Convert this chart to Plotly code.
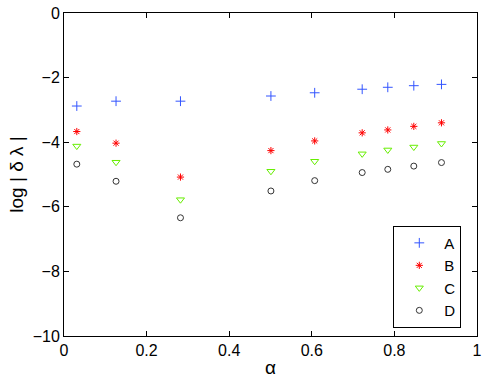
import plotly.graph_objects as go

# 数据
alpha = [0.031, 0.126, 0.282, 0.501, 0.607, 0.722, 0.784, 0.847, 0.914]
a_vals = [-2.88, -2.73, -2.73, -2.57, -2.47, -2.36, -2.30, -2.25, -2.21]
b_vals = [-3.67, -4.03, -5.08, -4.26, -3.96, -3.71, -3.62, -3.51, -3.40]
c_vals = [-4.12, -4.62, -5.78, -4.90, -4.59, -4.36, -4.24, -4.15, -4.04]
d_vals = [-4.68, -5.21, -6.34, -5.51, -5.19, -4.94, -4.84, -4.74, -4.63]

series = [
    ('A', a_vals, 'cross-thin-open', '#3355ff', 7),
    ('B', b_vals, 'asterisk-open', '#ff0000', 6),
    ('C', c_vals, 'triangle-down-open', '#66ee00', 7),
    ('D', d_vals, 'circle-open', '#333333', 6),
]

fig = go.Figure()
for name, vals, symbol, color, size in series:
    fig.add_trace(go.Scatter(
        x=alpha,
        y=vals,
        mode='markers',
        name=name,
        marker=dict(symbol=symbol, size=size, color=color,
                    line=dict(color=color, width=1)),
    ))

axis_style = dict(
    showline=True, linecolor='black', linewidth=1, mirror='ticks',
    ticks='inside', ticklen=5, tickcolor='black',
    showgrid=False, zeroline=False, automargin=False,
    ticklabeloverflow='allow',
    tickfont=dict(family='Liberation Sans, Arial', size=16, color='black'),
)

fig.update_layout(
    width=485,
    height=382,
    margin=dict(l=64, r=8, t=13, b=46),
    paper_bgcolor='white',
    plot_bgcolor='white',
    font=dict(family='Liberation Sans, Arial', size=16, color='black'),
    xaxis=dict(range=[0, 1], tickvals=[0, 0.2, 0.4, 0.6, 0.8, 1],
               ticktext=['0', '0.2', '0.4', '0.6', '0.8', '1'],
               title=dict(text='α', standoff=2), **axis_style),
    yaxis=dict(range=[-10, 0], tickvals=[0, -2, -4, -6, -8, -10],
               title=dict(text='log | δ λ |', standoff=4), **axis_style),
    legend=dict(x=0.962, y=0.026, xanchor='right', yanchor='bottom',
                bordercolor='black', borderwidth=1, bgcolor='white',
                font=dict(size=15), itemwidth=40, tracegroupgap=0),
    showlegend=True,
)

# 去掉页面 body 默认边距, 隐藏工具栏
fig.write_html("out.html", config={'displayModeBar': False},
               post_script="document.body.style.margin='0';")
